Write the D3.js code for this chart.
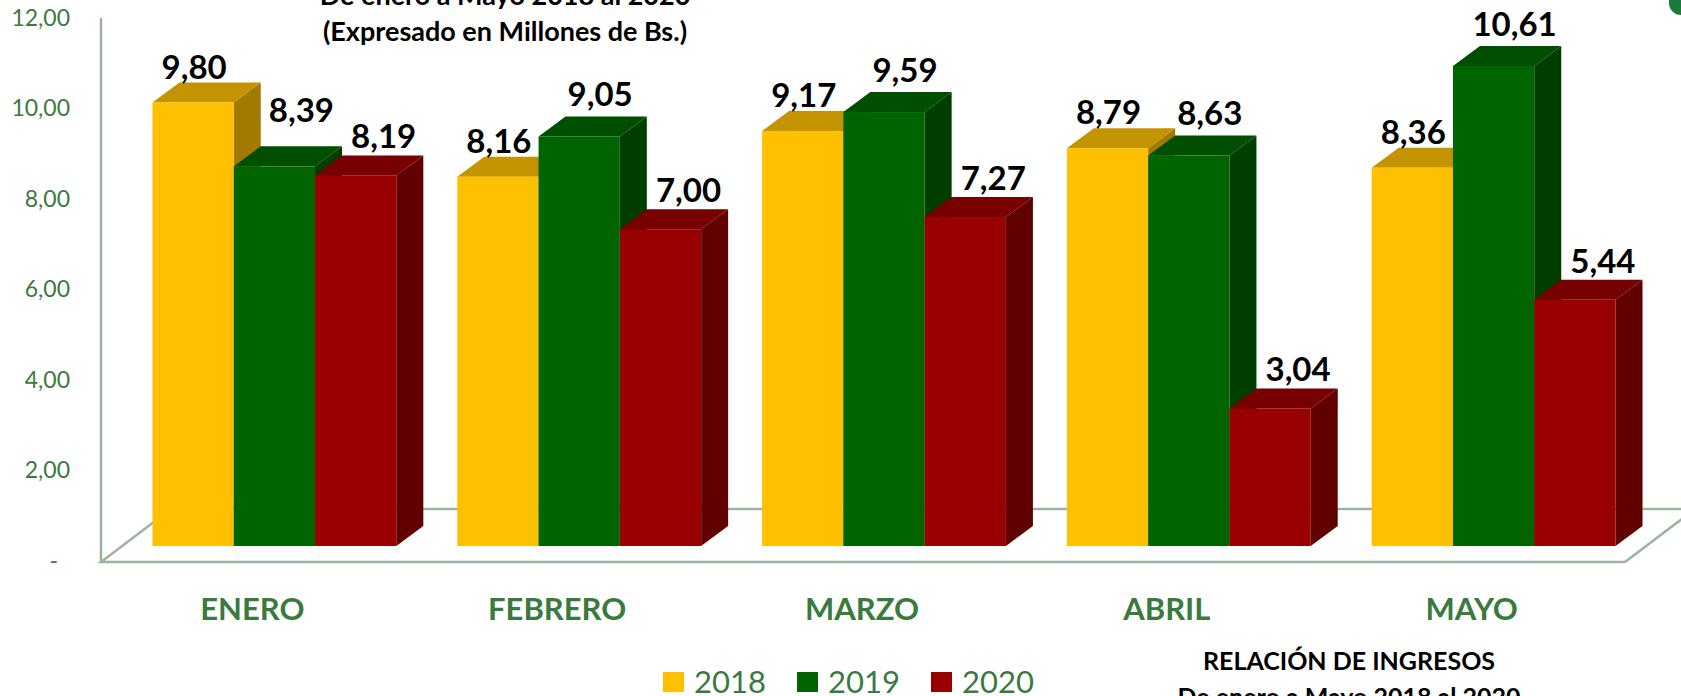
<!DOCTYPE html>
<html>
<head>
<meta charset="utf-8">
<script src="https://cdn.jsdelivr.net/npm/d3@7"></script>
<style>
  body { margin: 0; background: #fff; }
  svg { display: block; font-family: Lato, "Open Sans", sans-serif; }
</style>
</head>
<body>
<div class="chart"></div>
<script>
// monthly income, millions of Bs.
const months = ["ENERO", "FEBRERO", "MARZO", "ABRIL", "MAYO"];
const years = ["2018", "2019", "2020"];
const v2018 = [9.80, 8.16, 9.17, 8.79, 8.36];
const v2019 = [8.39, 9.05, 9.59, 8.63, 10.61];
const v2020 = [8.19, 7.00, 7.27, 3.04, 5.44];
const yTicks = [0, 2, 4, 6, 8, 10, 12];

const series = [v2018, v2019, v2020];

const width = 1681;
const height = 696;

// face colours per year: front, top, side
const colors = {
  "2018": ["#FFC000", "#C49300", "#A37A00"],
  "2019": ["#006400", "#004F00", "#003E00"],
  "2020": ["#990000", "#780000", "#600000"]
};
const depthX = 27, depthY = 20;
const floorY = 562, floorDepthX = 70, floorDepthY = 53;
const axisColor = "#9db39d";
const labelGreen = "#3a7a3e";

const fmt = v => v === 0 ? "-" : d3.format(".2f")(v).replace(".", ",");

const svg = d3.select(".chart")
  .append("svg")
  .attr("width", width)
  .attr("height", height);

const x0 = d3.scaleBand()
  .domain(months)
  .range([122, 1646])
  .paddingInner(0.2)
  .paddingOuter(0.1);

const x1 = d3.scaleBand()
  .domain(years)
  .range([0, x0.bandwidth()]);

const y = d3.scaleLinear()
  .domain([0, 12])
  .range([546, 546 - 12 * 45.25]);

// floor
const fl = 101, fr = 1625;
svg.append("path")
  .attr("d", `M${fl},${floorY} L${fr},${floorY} L${fr + floorDepthX},${floorY - floorDepthY} L${fl + floorDepthX},${floorY - floorDepthY} Z`)
  .attr("fill", "none")
  .attr("stroke", axisColor)
  .attr("stroke-width", 2.5);

// vertical axis line
svg.append("line")
  .attr("x1", fl).attr("x2", fl)
  .attr("y1", 18).attr("y2", floorY)
  .attr("stroke", axisColor)
  .attr("stroke-width", 2.5);

// tick labels
const yAxis = svg.append("g")
  .attr("transform", "translate(70,15)")
  .call(d3.axisLeft(y).tickValues(yTicks).tickSize(0).tickPadding(0).tickFormat(fmt));
yAxis.select(".domain").remove();
yAxis.selectAll("text")
  .attr("font-family", "Lato, sans-serif")
  .attr("font-size", 23)
  .attr("fill", labelGreen)
  .attr("dx", d => d === 0 ? -12 : 0);

// bars
const rows = [];
months.forEach((m, mi) => {
  years.forEach((yr, si) => {
    rows.push({ month: m, year: yr, si: si, value: series[si][mi] });
  });
});

const bars = svg.selectAll("g.bar")
  .data(rows)
  .enter()
  .append("g")
  .attr("class", "bar");

bars.each(function(d) {
  const g = d3.select(this);
  const xl = x0(d.month) + x1(d.year);
  const xr = xl + x1.bandwidth();
  const yt = y(d.value);
  const yb = y(0);
  const c = colors[d.year];
  g.append("path")
    .attr("d", `M${xr},${yt} L${xr + depthX},${yt - depthY} L${xr + depthX},${yb - depthY} L${xr},${yb} Z`)
    .attr("fill", c[2]);
  g.append("path")
    .attr("d", `M${xl},${yt} L${xl + depthX},${yt - depthY} L${xr + depthX},${yt - depthY} L${xr},${yt} Z`)
    .attr("fill", c[1]);
  g.append("rect")
    .attr("x", xl)
    .attr("y", yt)
    .attr("width", x1.bandwidth())
    .attr("height", yb - yt)
    .attr("fill", c[0]);
});

// value labels
const labelDx = [1, 21, 28];
const labelDy = [-24, -30, -27];
const nudge = { "ENERO|2019": [6, -14] };

svg.selectAll("text.value")
  .data(rows)
  .enter()
  .append("text")
  .attr("class", "value")
  .attr("x", d => {
    const n = nudge[d.month + "|" + d.year] || [0, 0];
    return x0(d.month) + x1(d.year) + x1.bandwidth() / 2 + labelDx[d.si] + n[0];
  })
  .attr("y", d => {
    const n = nudge[d.month + "|" + d.year] || [0, 0];
    return y(d.value) + labelDy[d.si] + n[1];
  })
  .attr("text-anchor", "middle")
  .attr("font-size", 33)
  .attr("font-weight", "bold")
  .attr("fill", "#000")
  .text(d => fmt(d.value));

// category labels
svg.selectAll("text.cat")
  .data(months)
  .enter()
  .append("text")
  .attr("class", "cat")
  .attr("x", d => x0(d) + x0.bandwidth() / 2 - 22)
  .attr("y", 620)
  .attr("text-anchor", "middle")
  .attr("font-size", 31)
  .attr("font-weight", "bold")
  .attr("fill", labelGreen)
  .text(d => d);

// legend
const legend = svg.selectAll("g.legend")
  .data(years)
  .enter()
  .append("g")
  .attr("class", "legend")
  .attr("transform", (d, i) => `translate(${663 + i * 134},672)`);
legend.append("rect")
  .attr("width", 21)
  .attr("height", 20)
  .attr("fill", d => colors[d][0]);
legend.append("text")
  .attr("x", 31)
  .attr("y", 21)
  .attr("font-size", 31)
  .attr("fill", labelGreen)
  .text(d => d);

// titles
svg.append("text")
  .attr("x", 505).attr("y", 5)
  .attr("text-anchor", "middle")
  .attr("font-size", 27).attr("font-weight", "bold")
  .text("De enero a Mayo 2018 al 2020");
svg.append("text")
  .attr("x", 505).attr("y", 41)
  .attr("text-anchor", "middle")
  .attr("font-size", 27).attr("font-weight", "bold")
  .text("(Expresado en Millones de Bs.)");

svg.append("text")
  .attr("x", 1349).attr("y", 670)
  .attr("text-anchor", "middle")
  .attr("font-size", 25).attr("font-weight", "bold")
  .text("RELACIÓN DE INGRESOS");
svg.append("text")
  .attr("x", 1349).attr("y", 706)
  .attr("text-anchor", "middle")
  .attr("font-size", 25).attr("font-weight", "bold")
  .text("De enero a Mayo 2018 al 2020");

// corner mark
svg.append("rect")
  .attr("x", 1669).attr("y", -30)
  .attr("width", 60).attr("height", 45)
  .attr("rx", 12)
  .attr("fill", "#1c7a3c");
</script>
</body>
</html>
